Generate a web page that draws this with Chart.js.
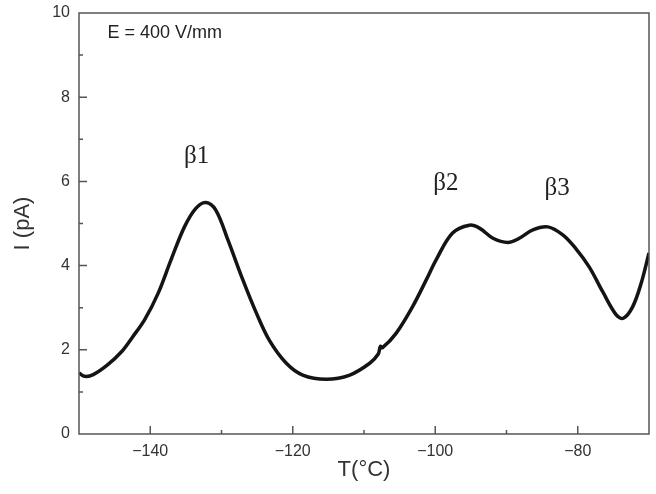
<!DOCTYPE html>
<html>
<head>
<meta charset="utf-8">
<script src="https://cdn.jsdelivr.net/npm/chart.js@4.4.1/dist/chart.umd.min.js"></script>
<style>
  html, body { margin: 0; padding: 0; background: #fff; }
  #wrap { width: 656px; height: 494px; }
</style>
</head>
<body>
<div id="wrap"><canvas id="chart"></canvas></div>
<script>
// TSDC current vs temperature
let tempC = [-150, -149.2, -148, -146, -144, -142.5, -140.8, -138.9, -137.1, -135.2, -133.6, -132.2, -130.8, -129.1,
  -127.0, -125.1, -123.3, -120.9, -118.6, -115.3, -112.0, -109.2, -108.0, -107.7, -107.4, -105.5, -103.2, -101.0,
  -99.9, -97.6, -95.2, -93.8, -91.9, -89.8, -88.2, -86.3, -84.2, -82.1, -80.3, -78.4, -76.5, -74.6, -73.6, -72.3,
  -71.1, -70.0];
let currentPA = [1.45, 1.37, 1.41, 1.64, 1.96, 2.3, 2.71, 3.34, 4.13, 4.92, 5.36, 5.50, 5.32, 4.61,
  3.66, 2.87, 2.23, 1.68, 1.40, 1.30, 1.40, 1.68, 1.90, 2.08, 2.05, 2.39, 3.02, 3.75,
  4.13, 4.77, 4.96, 4.89, 4.65, 4.55, 4.65, 4.85, 4.92, 4.73, 4.41, 3.97, 3.38, 2.83, 2.75, 3.02,
  3.58, 4.30];

let xTickLabels = [-140, -120, -100, -80];
let yTickLabels = [0, 2, 4, 6, 8, 10];

// peak labels, placed in data coordinates
let peakNames = ['β1', 'β2', 'β3'];
let peakX = [-133.5, -98.5, -82.9];
let peakY = [6.6, 5.95, 5.83];

let fieldText = 'E = 400 V/mm';

let axisColor = '#555555';

// draws the frame and the inward ticks
let frameTicks = {
  id: 'frameTicks',
  afterDatasetsDraw(chart) {
    let ctx = chart.ctx;
    let a = chart.chartArea;
    let xs = chart.scales.x, ys = chart.scales.y;
    ctx.save();
    ctx.strokeStyle = axisColor;
    ctx.lineWidth = 1.5;
    ctx.strokeRect(a.left, a.top, a.right - a.left, a.bottom - a.top);
    ctx.beginPath();
    for (let v = -140; v < -70; v += 10) {
      let px = xs.getPixelForValue(v);
      let len = xTickLabels.includes(v) ? 8 : 4;
      ctx.moveTo(px, a.bottom);
      ctx.lineTo(px, a.bottom - len);
    }
    for (let v = 1; v < 10; v++) {
      let py = ys.getPixelForValue(v);
      let len = yTickLabels.includes(v) ? 8 : 4;
      ctx.moveTo(a.left, py);
      ctx.lineTo(a.left + len, py);
    }
    ctx.stroke();

    ctx.fillStyle = '#222';
    ctx.textAlign = 'left';
    ctx.textBaseline = 'middle';
    ctx.font = '18px "Liberation Sans", Arial, sans-serif';
    ctx.fillText(fieldText, xs.getPixelForValue(-146), ys.getPixelForValue(9.52));

    ctx.textAlign = 'center';
    ctx.font = '25px "Liberation Serif", "Times New Roman", serif';
    peakNames.forEach((n, i) => {
      ctx.fillText(n, xs.getPixelForValue(peakX[i]), ys.getPixelForValue(peakY[i]));
    });
    ctx.restore();
  }
};

let points = tempC.map((t, i) => ({ x: t, y: currentPA[i] }));

new Chart(document.getElementById('chart'), {
  type: 'line',
  data: {
    datasets: [{
      data: points,
      borderColor: '#141414',
      borderWidth: 3.5,
      pointRadius: 0,
      fill: false,
      tension: 0.35
    }]
  },
  options: {
    responsive: true,
    maintainAspectRatio: false,
    animation: false,
    layout: { padding: { top: 13, right: 7, left: 0, bottom: 0 } },
    plugins: { legend: { display: false }, tooltip: { enabled: false } },
    scales: {
      x: {
        type: 'linear',
        min: -150,
        max: -70,
        afterFit: s => { s.height = 60; s.paddingLeft = 0; s.paddingRight = 0; },
        grid: { display: false, drawTicks: false },
        border: { display: false },
        ticks: {
          stepSize: 10,
          autoSkip: false,
          maxRotation: 0,
          padding: 8,
          color: '#333',
          font: { family: '"Liberation Sans", Arial, sans-serif', size: 16 },
          callback: v => xTickLabels.includes(v) ? '\u2212' + Math.abs(v) : ''
        },
        title: {
          display: true,
          text: 'T(°C)',
          color: '#333',
          padding: { top: 0, bottom: 11 },
          font: { family: '"Liberation Sans", Arial, sans-serif', size: 22 }
        }
      },
      y: {
        min: 0,
        max: 10,
        afterFit: s => { s.width = 79; s.paddingTop = 0; s.paddingBottom = 0; },
        grid: { display: false, drawTicks: false },
        border: { display: false },
        ticks: {
          stepSize: 1,
          autoSkip: false,
          padding: 9,
          color: '#333',
          font: { family: '"Liberation Sans", Arial, sans-serif', size: 16 },
          callback: v => yTickLabels.includes(v) ? String(v) : ''
        },
        title: {
          display: true,
          text: 'I (pA)',
          color: '#333',
          padding: { top: 10, bottom: 0 },
          font: { family: '"Liberation Sans", Arial, sans-serif', size: 22 }
        }
      }
    }
  },
  plugins: [frameTicks]
});
</script>
</body>
</html>
